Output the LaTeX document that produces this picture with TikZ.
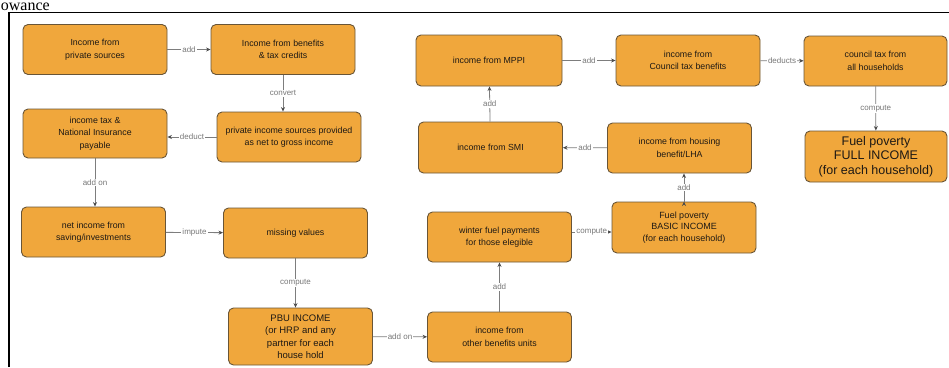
\documentclass[tikz,border=0pt]{standalone}
\usepackage{fontspec}
\setmainfont{Liberation Sans}
\newfontfamily\pageserif{Liberation Serif}
\usepackage{tikz}
\usetikzlibrary{positioning, arrows.meta}

\definecolor{boxfill}{RGB}{240,167,60}
\definecolor{boxline}{RGB}{105,85,55}
\definecolor{edgegray}{RGB}{125,125,125}
\definecolor{labelgray}{RGB}{120,120,120}
\definecolor{boxtext}{RGB}{30,25,20}

\begin{document}
\begin{tikzpicture}[x=1pt, y=-1pt, ->, >={Stealth[length=4.5pt, width=4pt, color=black!70]}, thick,
  flow node/.style={rectangle, rounded corners=5pt, draw=boxline, line width=0.9pt, fill=boxfill, text=boxtext,
    minimum width=144pt, minimum height=50pt, inner sep=0pt, align=center,
    font=\fontsize{8.8}{12.5}\selectfont},
  big node/.style={flow node, font=\fontsize{12.5}{14.5}\selectfont},
  mid node/.style={flow node, font=\fontsize{9}{11.7}\selectfont},
  pbu node/.style={flow node, font=\fontsize{9.5}{12.5}\selectfont},
  lbl/.style={fill=white, text=labelgray, inner sep=1pt, font=\fontsize{8}{9}\selectfont}]

  \useasboundingbox (0,0) rectangle (949,367);

  % page frame
  \node[anchor=base west, inner sep=0pt, font=\pageserif\fontsize{16}{16}\selectfont] (pagetext) at (0.5,10) {owance};
  \draw[-, line width=1.8pt, black] (9,367) -- (9,12.5) -- (949,12.5);

  % Define nodes
  \node[flow node] (privsrc) at (95,49.5) {Income from\\private sources};
  \node[flow node] (benefits) at (283,49.5) {Income from benefits\\\& tax credits};
  \node[flow node] (netgross) at (289,137) {private income sources provided\\as net to gross income};
  \node[flow node, minimum height=49pt] (taxni) at (95,133.5) {income tax \&\\National Insurance\\payable};
  \node[flow node] (saving) at (93.5,232) {net income from\\saving/investments};
  \node[flow node] (missing) at (295.5,233) {missing values};
  \node[pbu node, minimum height=57pt] (pbu) at (300.5,336.5) {PBU INCOME\\(or HRP and any\\partner for each\\house hold};
  \node[flow node] (otherbu) at (499.5,337) {income from\\other benefits units};
  \node[flow node] (winter) at (499.5,237) {winter fuel payments\\for those elegible};
  \node[mid node, minimum height=51pt] (basic) at (684,227.5) {Fuel poverty\\BASIC INCOME\\(for each household)};
  \node[flow node] (housing) at (679.5,148) {income from housing\\benefit/LHA};
  \node[flow node, minimum height=51pt] (smi) at (490.5,147.5) {income from SMI};
  \node[flow node, minimum width=146pt, minimum height=51pt] (mppi) at (489,60.5) {income from MPPI};
  \node[flow node, minimum height=51pt] (ctb) at (688,60.5) {income from\\Council tax benefits};
  \node[flow node, minimum width=143pt] (counciltax) at (875.5,61) {council tax from\\all households};
  \node[big node, minimum width=142pt, minimum height=51pt] (full) at (876,156.5) {Fuel poverty\\FULL INCOME\\(for each household)};

  % Define edges with labels
  \path[->, draw=edgegray, line width=0.8pt]
    (privsrc) edge node[lbl] {add} (benefits)
    (benefits.south) edge node[lbl] {convert} (benefits.south |- netgross.north)
    (netgross.west) edge node[lbl] {deduct} (netgross.west -| taxni.east)
    (taxni.south) edge node[lbl] {add on} (taxni.south |- saving.north)
    (saving) edge node[lbl] {impute} (missing)
    (missing.south) edge node[lbl] {compute} (missing.south |- pbu.north)
    (pbu) edge node[lbl] {add on} (otherbu)
    (otherbu) edge node[lbl] {add} (winter)
    ([yshift=5pt]winter.east) edge node[lbl] {compute} ([yshift=5pt]winter.east -| basic.west)
    (basic.north) edge node[lbl] {add} (basic.north |- housing.south)
    (housing) edge node[lbl] {add} (smi)
    (smi) edge node[lbl] {add} (mppi)
    (mppi) edge node[lbl] {add} (ctb)
    (ctb) edge node[lbl] {deducts} (counciltax)
    (counciltax) edge node[lbl] {compute} (full);
\end{tikzpicture}
\end{document}
